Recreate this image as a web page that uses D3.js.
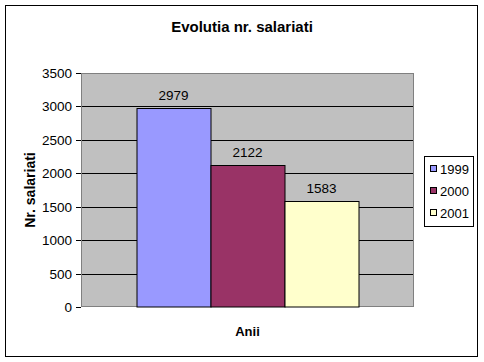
<!DOCTYPE html>
<html>
<head>
<meta charset="utf-8">
<script src="https://cdn.jsdelivr.net/npm/d3@7/dist/d3.min.js"></script>
<style>
  body { margin: 0; background: #fff; }
  svg { display: block; font-family: Arial, "Liberation Sans", sans-serif; }
  .axis path { display: none; }
  .axis line { stroke: #000; }
  .axis text { font-size: 13.5px; fill: #000; }
</style>
</head>
<body>
<div id="chart"></div>
<script>
// Data
var category = "Anii";
var years = ["1999", "2000", "2001"];
var values = [2979, 2122, 1583];
var colors = ["#9999FF", "#993366", "#FFFFCC"];
var yTicks = [0, 500, 1000, 1500, 2000, 2500, 3000, 3500];

var width = 484, height = 362;
var margins = { left: 81, top: 73, right: 70, bottom: 55 };
var chartWidth = 414 - margins.left;
var chartHeight = 307 - margins.top;

var svg = d3.select("#chart").append("svg")
  .attr("width", width)
  .attr("height", height);

// Outer frame
svg.append("rect")
  .attr("x", 5.5).attr("y", 5.5)
  .attr("width", 472).attr("height", 351)
  .attr("fill", "#fff").attr("stroke", "#000");

// Title
svg.append("text")
  .attr("x", 242).attr("y", 32)
  .attr("text-anchor", "middle")
  .style("font-size", "15px").style("font-weight", "bold")
  .text("Evolutia nr. salariati");

var chart = svg.append("g")
  .attr("transform", "translate(" + margins.left + "," + margins.top + ")");

// Scales
var xScale = d3.scaleBand()
  .domain([category])
  .range([0, chartWidth])
  .paddingInner(0)
  .paddingOuter(0.25);

var xSeries = d3.scaleBand()
  .domain(years)
  .range([0, xScale.bandwidth()]);

var yScale = d3.scaleLinear()
  .domain([0, 3500])
  .range([chartHeight, 0]);

var colorScale = d3.scaleOrdinal().domain(years).range(colors);

// Plot background
chart.append("rect")
  .attr("width", chartWidth).attr("height", chartHeight)
  .attr("fill", "#C0C0C0");

// Grid
chart.append("g")
  .selectAll("line")
  .data(yTicks.slice(1, -1))
  .enter().append("line")
  .attr("x1", 0).attr("x2", chartWidth)
  .attr("y1", d => Math.round(yScale(d)) + 0.5)
  .attr("y2", d => Math.round(yScale(d)) + 0.5)
  .attr("stroke", "#000");

// Plot border
chart.append("rect")
  .attr("x", 0.5).attr("y", 0.5)
  .attr("width", chartWidth - 1).attr("height", chartHeight - 1)
  .attr("fill", "none").attr("stroke", "#808080");

// Y axis
var yAxis = d3.axisLeft(yScale)
  .tickValues(yTicks)
  .tickSize(5)
  .tickPadding(4)
  .tickFormat(d3.format("d"));

chart.append("g")
  .attr("class", "y axis")
  .call(yAxis)
  .selectAll(".tick")
  .attr("transform", d => "translate(0," + (Math.round(yScale(d)) + 0.5) + ")");

// Bars
var group = chart.append("g")
  .attr("transform", "translate(" + xScale(category) + ",0)");

var data = years.map((y, i) => ({ year: y, value: values[i] }));

group.selectAll("rect")
  .data(data)
  .enter().append("rect")
  .attr("x", d => Math.round(xSeries(d.year)) + 0.5)
  .attr("y", d => Math.round(yScale(d.value)) + 0.5)
  .attr("width", xSeries.bandwidth())
  .attr("height", d => chartHeight - Math.round(yScale(d.value)) - 0.5)
  .attr("fill", d => colorScale(d.year))
  .attr("stroke", "#000");

// Value labels
group.selectAll("text")
  .data(data)
  .enter().append("text")
  .attr("x", d => xSeries(d.year) + xSeries.bandwidth() / 2)
  .attr("y", d => yScale(d.value) - 8)
  .attr("text-anchor", "middle")
  .style("font-size", "13.5px")
  .text(d => d.value);

// Axis titles
svg.append("text")
  .attr("x", margins.left + chartWidth / 2).attr("y", 336)
  .attr("text-anchor", "middle")
  .style("font-size", "13px").style("font-weight", "bold")
  .text(category);

svg.append("text")
  .attr("transform", "translate(35," + (margins.top + chartHeight / 2) + ") rotate(-90)")
  .attr("text-anchor", "middle")
  .style("font-size", "14px").style("font-weight", "bold")
  .text("Nr. salariati");

// Legend
var legend = svg.append("g").attr("transform", "translate(424,156)");
legend.append("rect")
  .attr("x", 0.5).attr("y", 0.5)
  .attr("width", 49).attr("height", 70)
  .attr("fill", "#fff").attr("stroke", "#000");

var items = legend.selectAll(".item")
  .data(years)
  .enter().append("g")
  .attr("transform", (d, i) => "translate(0," + (13 + i * 22) + ")");

items.append("rect")
  .attr("x", 6.5).attr("y", -3.5)
  .attr("width", 6).attr("height", 6)
  .attr("fill", d => colorScale(d))
  .attr("stroke", "#000");

items.append("text")
  .attr("x", 16).attr("y", 4.5)
  .style("font-size", "13px")
  .text(d => d);
</script>
</body>
</html>
